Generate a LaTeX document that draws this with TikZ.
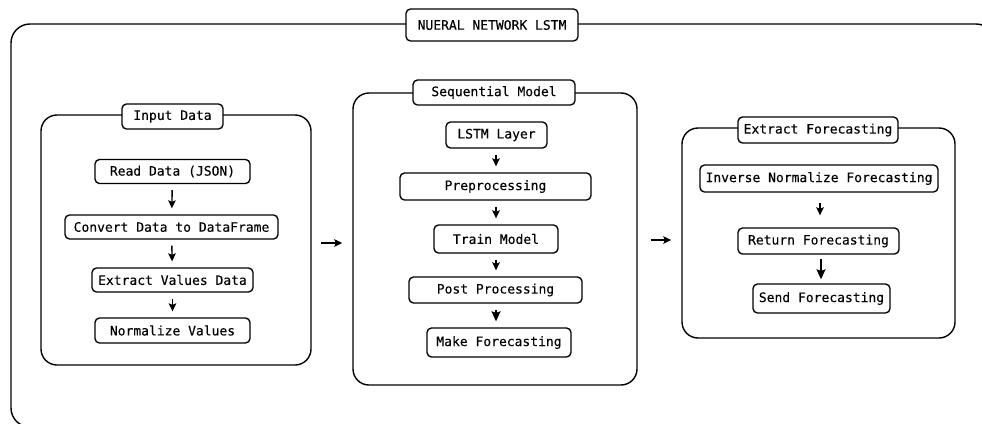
\documentclass[tikz,border=0pt]{standalone}
\usepackage{fontspec}
\newfontfamily\boxfont[FakeBold=0.2]{DejaVu Sans Mono}
\usetikzlibrary{arrows.meta}
\tikzset{
  box/.style={draw=black, line width=1.35pt, rounded corners=4.5pt, fill=white,
    inner sep=0pt, font=\boxfont\fontsize{13}{15}\selectfont, minimum height=26pt},
  frame/.style={draw=black, line width=1.4pt, rounded corners=16pt, inner sep=0pt},
  flow/.style={draw=black, line width=1.4pt, -{Stealth[length=8pt,width=7.5pt,inset=1.5pt]},
    shorten <=6pt, shorten >=6pt},
  bigflow/.style={flow, -{Stealth[length=10pt,width=9pt,inset=1.5pt]}},
}
\begin{document}
\begin{tikzpicture}[x=1pt,y=-1pt]
\useasboundingbox (0,0) rectangle (982,423);
\clip (0,0) rectangle (982,423);
% outer frame
\node[frame, rounded corners=19pt, minimum width=984pt, minimum height=403pt] (outer) at (503,225.5) {};
\node[box, minimum width=172pt, minimum height=32pt] (outt) at (492,25) {NUERAL NETWORK LSTM};
% containers
\node[frame, minimum width=270pt, minimum height=250pt] (inp) at (176,240) {};
\node[box, minimum width=101pt, minimum height=25pt] (inpt) at (172.5,116.5) {Input Data};
\node[frame, minimum width=284pt, minimum height=292pt] (seq) at (495,239) {};
\node[box, minimum width=162pt, minimum height=25pt] (seqt) at (494,92.5) {Sequential Model};
\node[frame, minimum width=273pt, minimum height=210pt] (ext) at (818.5,233) {};
\node[box, minimum width=160pt, minimum height=26pt] (extt) at (818,130) {Extract Forecasting};
% input data
\node[box, minimum width=155pt, minimum height=24pt] (a1) at (172.5,171.5) {Read Data (JSON)};
\node[box, minimum width=213pt, minimum height=24pt] (a2) at (171.5,227) {Convert Data to DataFrame};
\node[box, minimum width=161pt, minimum height=24pt] (a3) at (172.5,280) {Extract Values Data};
\node[box, minimum width=155pt, minimum height=25pt] (a4) at (172.5,330.5) {Normalize Values};
% sequential model
\node[box, minimum width=101pt] (b1) at (496.5,135) {LSTM Layer};
\node[box, minimum width=191pt, minimum height=27pt] (b2) at (495.5,186.5) {Preprocessing};
\node[box, minimum width=124pt, minimum height=28pt] (b3) at (496,239) {Train Model};
\node[box, minimum width=173pt] (b4) at (495.5,290) {Post Processing};
\node[box, minimum width=144pt, minimum height=29pt] (b5) at (499,342.5) {Make Forecasting};
% extract forecasting
\node[box, minimum width=238pt, minimum height=27pt] (c1) at (819,178.5) {Inverse Normalize Forecasting};
\node[box, minimum width=161pt] (c2) at (818.5,241) {Return Forecasting};
\node[box, minimum width=137pt, minimum height=29pt] (c3) at (821.5,298.5) {Send Forecasting};
% arrows
\draw[flow] (a1) -- (a2);
\draw[flow] (a2) -- (a3);
\draw[flow] (a3) -- (a4);
\draw[flow] (b1.south -| 496,0) -- (b2.north -| 496,0);
\draw[flow] (b2.south -| 496,0) -- (b3.north -| 496,0);
\draw[flow] (b3.south -| 496,0) -- (b4.north -| 496,0);
\draw[bigflow] (b4.south -| 496,0) -- (b5.north -| 496,0);
\draw[flow, shorten <=10pt, shorten >=12pt] (c1.south -| 820,0) -- (c2.north -| 820,0);
\draw[bigflow, shorten <=4pt, shorten >=4pt] (c2.south -| 821,0) -- (c3.north -| 821,0);
\draw[flow, shorten <=9pt, shorten >=10pt] (inp.east |- 0,243) -- (seq.west |- 0,243);
\draw[flow, shorten <=13pt, shorten >=10pt] (seq.east |- 0,240) -- (ext.west |- 0,240);
\end{tikzpicture}
\end{document}
